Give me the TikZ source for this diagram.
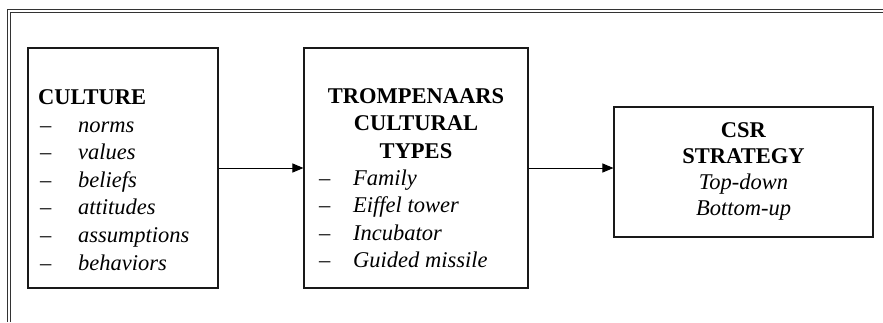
\documentclass[tikz,border=0pt]{standalone}
\usepackage{fontspec}
\setmainfont{Liberation Serif}
\usetikzlibrary{arrows.meta}
\tikzset{
  box/.style={draw=black!90, line width=1.1pt, inner sep=0pt},
  frameline/.style={draw=black!80, line width=1.3pt},
  conn/.style={draw=black, line width=1pt, -{Triangle[length=11pt,width=9pt]}},
  txt/.style={inner sep=0pt, font=\fontsize{22.5}{27.6}\selectfont},
}
\newcommand{\itm}[2]{\makebox[#1][l]{–}\textit{#2}}
\begin{document}
\begin{tikzpicture}[x=1pt,y=-1pt]
\useasboundingbox (0,0) rectangle (883,322);
% outer double frame (top and left)
\draw[frameline] (7.5,322) -- (7.5,9.5) -- (883,9.5);
\draw[frameline] (10.5,322) -- (10.5,12.5) -- (883,12.5);
% boxes
\node[box, minimum width=190pt, minimum height=240pt] (b1) at (123,168) {};
\node[box, minimum width=224pt, minimum height=240pt] (b2) at (416,168) {};
\node[box, minimum width=259pt, minimum height=130pt] (b3) at (743.5,172) {};
% box 1 text
\node[txt, anchor=base west] (t1a) at (38,104) {\textbf{CULTURE}};
\node[txt, anchor=base west] (t1b) at (40,132) {\begin{tabular}[t]{@{}l@{}}
\itm{38pt}{norms}\\
\itm{38pt}{values}\\
\itm{38pt}{beliefs}\\
\itm{38pt}{attitudes}\\
\itm{38pt}{assumptions}\\
\itm{38pt}{behaviors}
\end{tabular}};
% box 2 text
\node[txt, anchor=base] (t2a) at (416,103) {\begin{tabular}[t]{@{}c@{}}
\textbf{TROMPENAARS}\\
\textbf{CULTURAL}\\
\textbf{TYPES}
\end{tabular}};
\node[txt, anchor=base west] (t2b) at (319,185) {\begin{tabular}[t]{@{}l@{}}
\itm{34pt}{Family}\\
\itm{34pt}{Eiffel tower}\\
\itm{34pt}{Incubator}\\
\itm{34pt}{Guided missile}
\end{tabular}};
% box 3 text
\node[txt, anchor=base] (t3) at (743.5,137) {\fontsize{22.5}{26}\selectfont\begin{tabular}[t]{@{}c@{}}
\textbf{CSR}\\
\textbf{STRATEGY}\\
\textit{Top-down}\\
\textit{Bottom-up}
\end{tabular}};
% connectors
\draw[conn] (b1.east) -- (b2.west);
\draw[conn] (b2.east) -- (b3.west |- b2.east);
\end{tikzpicture}
\end{document}
